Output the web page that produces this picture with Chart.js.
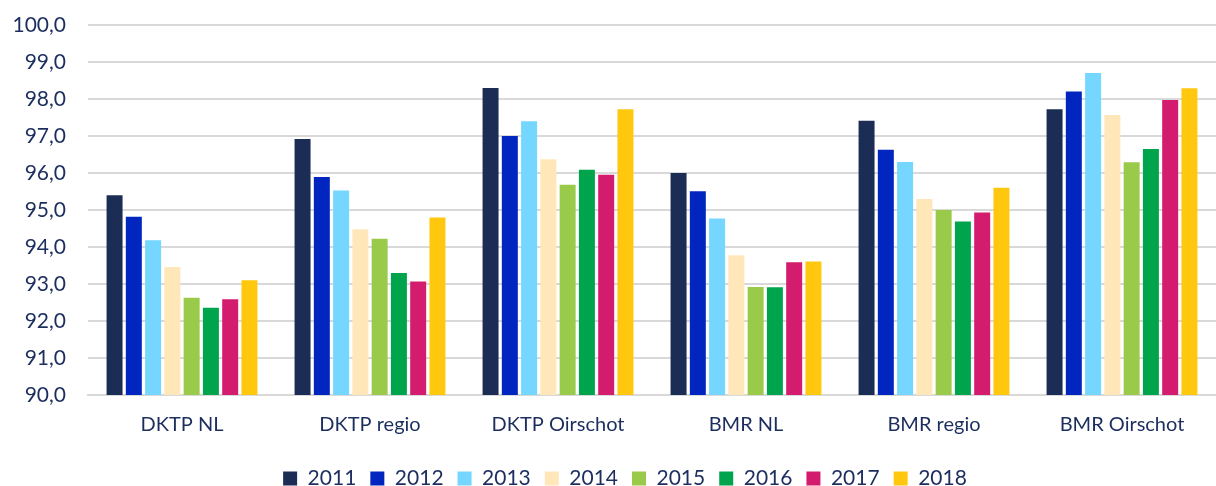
<!DOCTYPE html>
<html><head><meta charset="utf-8">
<script src="https://cdn.jsdelivr.net/npm/chart.js@4/dist/chart.umd.min.js"></script>
<style>html,body{margin:0;padding:0;background:#fff;}#wrap{width:1216px;height:486px;}</style>
</head><body><div id="wrap"><canvas id="c" width="1216" height="486"></canvas></div>
<script>
const categories = ["DKTP NL", "DKTP regio", "DKTP Oirschot", "BMR NL", "BMR regio", "BMR Oirschot"];
const years = ["2011","2012","2013","2014","2015","2016","2017","2018"];
const v2011 = [95.40, 96.92, 98.30, 96.00, 97.41, 97.72];
const v2012 = [94.82, 95.89, 97.00, 95.51, 96.63, 98.20];
const v2013 = [94.18, 95.53, 97.40, 94.77, 96.30, 98.70];
const v2014 = [93.46, 94.48, 96.37, 93.78, 95.30, 97.57];
const v2015 = [92.63, 94.22, 95.68, 92.92, 95.00, 96.29];
const v2016 = [92.36, 93.30, 96.09, 92.91, 94.69, 96.65];
const v2017 = [92.59, 93.07, 95.95, 93.59, 94.93, 97.97];
const v2018 = [93.10, 94.80, 97.72, 93.61, 95.60, 98.29];
const colors = ["#1C2D55","#0026BF","#75D6FF","#FFE7BA","#9ACA4A","#00A44C","#D41C6E","#FFC80F"];
const series = [v2011,v2012,v2013,v2014,v2015,v2016,v2017,v2018];
const textColor = "#1C2E5E";
const fontFam = "Lato, 'Open Sans', sans-serif";

const legendShift = {
  id: 'legendShift',
  afterLayout(chart) {
    const l = chart.legend;
    if (l) { l.left += 17; l.right += 17; }
  }
};

new Chart(document.getElementById('c'), {
  type: 'bar',
  data: {
    labels: categories,
    datasets: series.map((d,i)=>({label: years[i], data: d, backgroundColor: colors[i], borderWidth: 0,
      categoryPercentage: 0.82, barPercentage: 0.83}))
  },
  plugins: [legendShift],
  options: {
    responsive: false,
    animation: false,
    layout: {padding: {top: 25, right: 0, left: 0, bottom: -13}},
    scales: {
      y: {
        min: 90, max: 100,
        ticks: {stepSize: 1, color: textColor, font: {family: fontFam, size: 21}, padding: 22,
          callback: v => v.toFixed(1).replace('.', ',')},
        grid: {color: '#D9D9D9', lineWidth: 2, drawTicks: false},
        border: {display: false},
        afterFit: s => { s.width = 88; s.paddingTop = 12; s.paddingBottom = 0; }
      },
      x: {
        ticks: {color: textColor, font: {family: fontFam, size: 20}, padding: 10},
        grid: {display: false},
        border: {display: true, color: '#D9D9D9', width: 2},
        afterFit: s => { s.height += 7; }
      }
    },
    plugins: {
      legend: {
        position: 'bottom',
        labels: {color: textColor, font: {family: fontFam, size: 21}, boxWidth: 14, boxHeight: 14, padding: 14}
      },
      tooltip: {enabled: false}
    }
  }
});
</script></body></html>
